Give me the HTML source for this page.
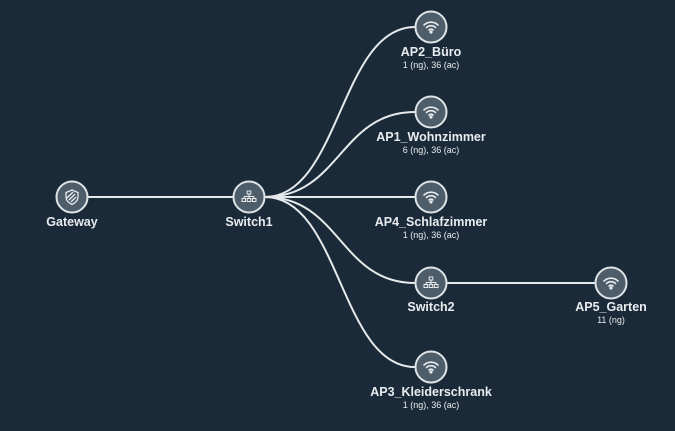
<!DOCTYPE html>
<html><head><meta charset="utf-8"><style>
html,body{margin:0;padding:0;background:#1b2a38;}
svg{display:block}
text{font-family:"Liberation Sans",sans-serif;fill:#e8ecef;text-anchor:middle}
.l{font-size:12.5px;font-weight:bold}
.s{font-size:9px}
</style></head><body>
<svg width="675" height="431" viewBox="0 0 675 431">
<rect width="675" height="431" fill="#1b2a38"/>
<g stroke="#e6eaec" stroke-width="2" fill="none">
<line x1="88" y1="197" x2="233" y2="197"/>
<path d="M265,197 C340,197 340,27 415,27"/>
<path d="M265,197 C340,197 340,112 415,112"/>
<path d="M265,197 L415,197"/>
<path d="M265,197 C340,197 340,283 415,283"/>
<path d="M265,197 C340,197 340,367 415,367"/>
<line x1="447" y1="283" x2="595" y2="283"/>
</g>
<defs>
<g id="wifi" fill="none" stroke="#e8ecef" stroke-width="1.6" stroke-linecap="round">
<path d="M-7,-2 A10,10 0 0 1 7,-2"/>
<path d="M-4.5,0.5 A6.5,6.5 0 0 1 4.5,0.5"/>
<path d="M-2,3 A3,3 0 0 1 2,3"/>
<circle cx="0" cy="5" r="0.8" fill="#e8ecef"/>
</g>
<g id="sw" fill="none" stroke="#e8ecef" stroke-width="1">
<rect x="-1.8" y="-6" width="3.6" height="3"/>
<path d="M0,-3 V-0.5 M-5,-0.5 H5 M-5,-0.5 V1.5 M0,-0.5 V1.5 M5,-0.5 V1.5"/>
<rect x="-7" y="1.5" width="3.6" height="3"/><rect x="-1.8" y="1.5" width="3.6" height="3"/><rect x="3.4" y="1.5" width="3.6" height="3"/>
</g>
<g id="gw" fill="none" stroke="#e8ecef" stroke-width="1.3">
<path d="M0,-7 L6,-4.5 V0 C6,4 3,6 0,7.5 C-3,6 -6,4 -6,0 V-4.5 Z"/>
<path d="M-3,3 L3,-3 M-1,5 L4,0 M-5,1 L1,-5"/>
</g>
<g id="c"><circle r="15.5" fill="#4d5d69" stroke="#dfe4e7" stroke-width="2"/></g>
</defs>
<g transform="translate(72,197)"><use href="#c"/><use href="#gw"/></g>
<g transform="translate(249,197)"><use href="#c"/><use href="#sw"/></g>
<g transform="translate(431,27)"><use href="#c"/><use href="#wifi"/></g>
<g transform="translate(431,112)"><use href="#c"/><use href="#wifi"/></g>
<g transform="translate(431,197)"><use href="#c"/><use href="#wifi"/></g>
<g transform="translate(431,283)"><use href="#c"/><use href="#sw"/></g>
<g transform="translate(431,367)"><use href="#c"/><use href="#wifi"/></g>
<g transform="translate(611,283)"><use href="#c"/><use href="#wifi"/></g>
<text class="l" x="72" y="226">Gateway</text>
<text class="l" x="249" y="226">Switch1</text>
<text class="l" x="431" y="56">AP2_Büro</text><text class="s" x="431" y="68">1 (ng), 36 (ac)</text>
<text class="l" x="431" y="141">AP1_Wohnzimmer</text><text class="s" x="431" y="153">6 (ng), 36 (ac)</text>
<text class="l" x="431" y="226">AP4_Schlafzimmer</text><text class="s" x="431" y="238">1 (ng), 36 (ac)</text>
<text class="l" x="431" y="311">Switch2</text>
<text class="l" x="431" y="396">AP3_Kleiderschrank</text><text class="s" x="431" y="408">1 (ng), 36 (ac)</text>
<text class="l" x="611" y="311">AP5_Garten</text><text class="s" x="611" y="323">11 (ng)</text>
</svg>
</body></html>
